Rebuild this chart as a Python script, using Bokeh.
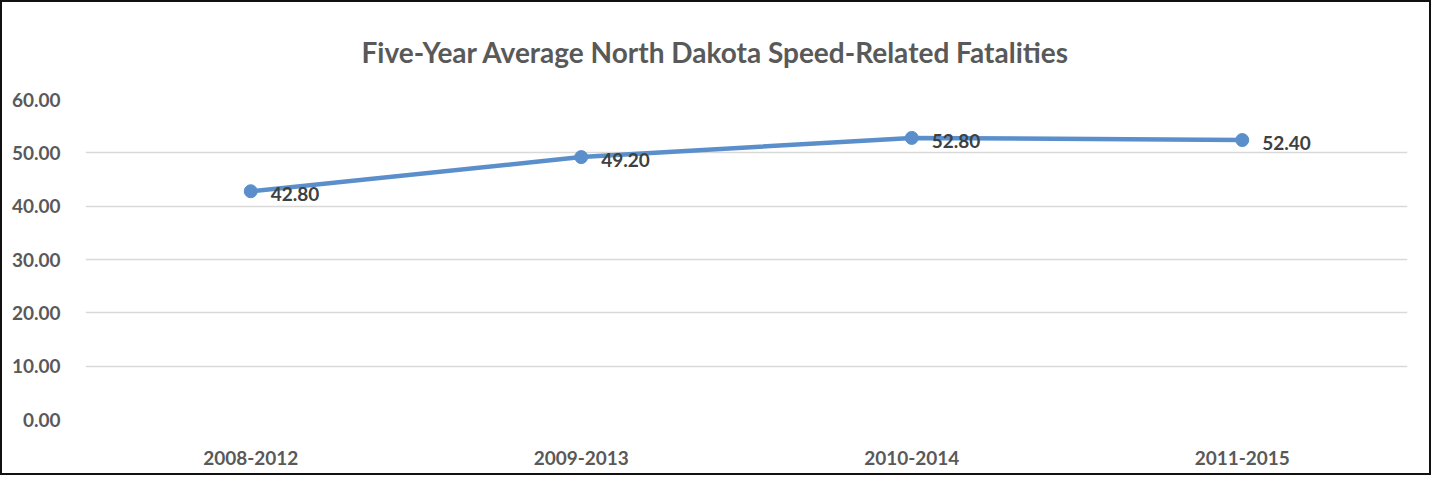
from bokeh.plotting import figure
from bokeh.models import ColumnDataSource, FactorRange, Range1d, NumeralTickFormatter, FixedTicker
from bokeh.core.properties import value
from bokeh.embed import file_html
from bokeh.resources import INLINE

title_text = "Five-Year Average North Dakota Speed-Related Fatalities"
periods = ["2008-2012", "2009-2013", "2010-2014", "2011-2015"]
fatalities = [42.80, 49.20, 52.80, 52.40]
labels = ["42.80", "49.20", "52.80", "52.40"]
y_ticks = [0, 10, 20, 30, 40, 50, 60]

FONT = "Lato"
LINE = "#5B8FCB"

src = ColumnDataSource(dict(x=periods, y=fatalities, lab=labels))

p = figure(
    width=1431, height=475,
    x_range=FactorRange(*periods, range_padding=0),
    y_range=Range1d(0, 60),
    output_backend="svg", toolbar_location=None,
    title=title_text,
    min_border_left=83, min_border_right=26, min_border_top=97, min_border_bottom=58,
)
p.styles = {"border": "2px solid #111111", "box-sizing": "border-box"}

p.title.align = "left"
p.title.offset = 276
p.title.standoff = 61
p.title.text_font = FONT
p.title.text_font_size = "28px"
p.title.text_font_style = "bold"
p.title.text_color = "#595959"

p.outline_line_color = None
p.background_fill_color = "white"
p.border_fill_color = "white"

p.xgrid.grid_line_color = None
p.ygrid.grid_line_color = "#D9D9D9"
p.ygrid.grid_line_width = 1.5
p.yaxis.ticker = FixedTicker(ticks=y_ticks)
p.yaxis.formatter = NumeralTickFormatter(format="0.00")

for ax in (p.xaxis, p.yaxis):
    ax.axis_line_color = None
    ax.major_tick_line_color = None
    ax.minor_tick_line_color = None
    ax.major_label_text_font = FONT
    ax.major_label_text_font_style = "bold"
    ax.major_label_text_font_size = "19px"
    ax.major_label_text_color = "#595959"
p.yaxis.major_label_standoff = 19
p.xaxis.major_label_standoff = 25

p.line("x", "y", source=src, line_color=LINE, line_width=4.5)
p.scatter("x", "y", source=src, size=13, fill_color=LINE, line_color=LINE)
p.text("x", "y", text="lab", source=src, x_offset=20, y_offset=3,
       text_font=value(FONT), text_font_style="bold", text_font_size="19px",
       text_color="#404040", text_baseline="middle", text_align="left")

open("out.html", "w").write(file_html(p, INLINE))
